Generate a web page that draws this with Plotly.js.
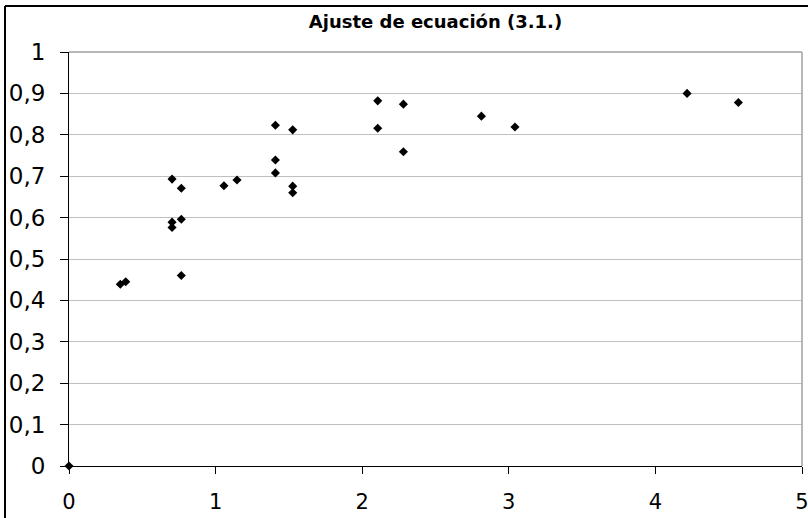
<!DOCTYPE html>
<html>
<head>
<meta charset="utf-8">
<script src="https://cdn.plot.ly/plotly-3.0.1.min.js"></script>
<style>
html,body{margin:0;padding:0;background:#fff;}
#chart{width:808px;height:518px;}
</style>
</head>
<body>
<div id="chart"></div>
<script>
const chartTitle = "Ajuste de ecuación (3.1.)";
const xValues = [0, 0.350, 0.387, 0.703, 0.703, 0.703, 0.766, 0.766, 0.766, 1.057, 1.146,
                 1.408, 1.408, 1.408, 1.526, 1.526, 1.526, 2.106, 2.106, 2.281, 2.281,
                 2.813, 3.042, 4.216, 4.566];
const yValues = [0, 0.439, 0.445, 0.693, 0.589, 0.576, 0.671, 0.596, 0.460, 0.677, 0.691,
                 0.823, 0.739, 0.708, 0.812, 0.676, 0.660, 0.882, 0.816, 0.874, 0.759,
                 0.845, 0.819, 0.900, 0.878];
const xTicks = [0, 1, 2, 3, 4, 5];
const yTicks = [0, 0.1, 0.2, 0.3, 0.4, 0.5, 0.6, 0.7, 0.8, 0.9, 1];

const trace = {
  x: xValues, y: yValues, type: 'scatter', mode: 'markers',
  marker: {symbol: 'diamond', size: 7, color: '#000'},
  cliponaxis: false, hoverinfo: 'x+y'
};

const layout = {
  width: 808, height: 518,
  margin: {l: 69, r: 6, t: 52, b: 52},
  separators: ',.',
  paper_bgcolor: '#fff', plot_bgcolor: '#fff',
  font: {family: 'DejaVu Sans, Liberation Sans, Arial, sans-serif', color: '#000'},
  showlegend: false,
  title: {text: '<b>' + chartTitle + '</b>', font: {size: 18, color: '#000'},
          x: 0.5, xref: 'paper', y: 1 - 22/518, yref: 'container', yanchor: 'middle'},
  xaxis: {range: [0, 5], tickvals: xTicks, ticktext: xTicks.map(String),
          showgrid: false, zeroline: false, showline: true, linecolor: '#000', linewidth: 1,
          ticks: 'outside', ticklen: 7, tickcolor: '#000', tickfont: {size: 21},
          ticklabelstandoff: 10, ticklabeloverflow: 'allow'},
  yaxis: {range: [0, 1], tickvals: yTicks, ticktext: yTicks.map(v => String(v).replace('.', ',')),
          showgrid: true, gridcolor: '#c0c0c0', gridwidth: 1, zeroline: false,
          showline: true, linecolor: '#000', linewidth: 1,
          ticks: 'outside', ticklen: 8, tickcolor: '#000', tickfont: {size: 23},
          ticklabelstandoff: 10, ticklabeloverflow: 'allow'},
  shapes: [
    {type: 'line', xref: 'paper', yref: 'paper', x0: 0, x1: 1, y0: 1, y1: 1, line: {color: '#a0a0a0', width: 1.5}},
    {type: 'line', xref: 'paper', yref: 'paper', x0: 1, x1: 1, y0: 0, y1: 1, line: {color: '#a0a0a0', width: 1.5}},
    {type: 'line', xref: 'paper', yref: 'paper', x0: (5-69)/733, x1: (5-69)/733, y0: -0.2, y1: (466-6)/414, line: {color: '#000', width: 2}},
    {type: 'line', xref: 'paper', yref: 'paper', x0: (5-69)/733, x1: 1.1, y0: (466-6)/414, y1: (466-6)/414, line: {color: '#000', width: 2}}
  ]
};

Plotly.newPlot('chart', [trace], layout, {displayModeBar: false, staticPlot: true});
</script>
</body>
</html>
